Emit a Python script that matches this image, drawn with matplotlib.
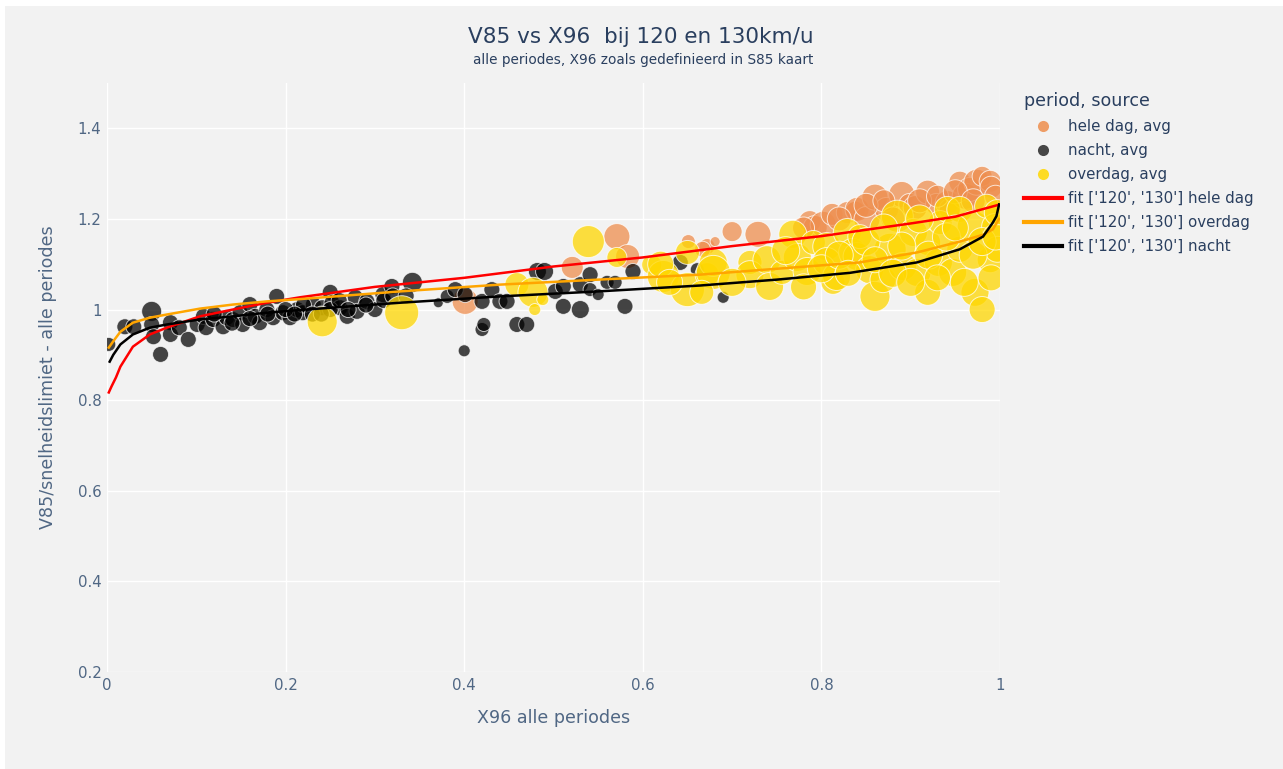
import numpy as np
import matplotlib.pyplot as plt
from matplotlib.lines import Line2D
from matplotlib.patches import Rectangle
from matplotlib.ticker import FuncFormatter

# --- data: X96 vs V85/speed limit, marker size = diameter in px ---
nacht_x = [0.002, 0.020, 0.030, 0.050, 0.050, 0.052, 0.060, 0.071, 0.071, 0.081,
           0.091, 0.101, 0.108, 0.111, 0.119, 0.130, 0.134, 0.141, 0.149, 0.152,
           0.160, 0.166, 0.171, 0.179, 0.186, 0.190, 0.197, 0.205, 0.213, 0.219,
           0.231, 0.241, 0.250, 0.252, 0.261, 0.269, 0.278, 0.280, 0.291, 0.300,
           0.309, 0.319, 0.342, 0.371, 0.381, 0.390, 0.401, 0.400, 0.420, 0.420,
           0.422, 0.431, 0.440, 0.448, 0.459, 0.470, 0.482, 0.490, 0.502, 0.511,
           0.511, 0.530, 0.530, 0.541, 0.541, 0.550, 0.560, 0.569, 0.580, 0.589,
           0.642, 0.661, 0.690,
           0.120, 0.140, 0.160, 0.180, 0.200, 0.220, 0.230, 0.250, 0.260, 0.270,
           0.290, 0.310, 0.320, 0.335, 0.240, 0.210]
nacht_y = [0.923, 0.962, 0.962, 0.996, 0.967, 0.940, 0.901, 0.971, 0.945, 0.960,
           0.934, 0.967, 0.985, 0.960, 0.978, 0.962, 0.982, 0.978, 0.993, 0.967,
           1.011, 0.985, 0.971, 1.000, 0.982, 1.029, 0.993, 0.982, 1.000, 0.993,
           1.011, 1.004, 1.038, 1.015, 1.004, 0.985, 1.027, 0.996, 1.018, 1.000,
           1.033, 1.051, 1.060, 1.015, 1.029, 1.044, 1.033, 0.909, 1.018, 0.956,
           0.967, 1.044, 1.018, 1.018, 0.967, 0.967, 1.084, 1.084, 1.040, 1.051,
           1.007, 1.055, 1.000, 1.077, 1.044, 1.033, 1.060, 1.060, 1.007, 1.084,
           1.104, 1.088, 1.027,
           0.990, 0.970, 0.980, 0.990, 1.000, 1.010, 0.990, 1.000, 1.020, 1.000,
           1.010, 1.020, 1.030, 1.030, 0.990, 0.990]
nacht_d = [14, 16, 16, 20, 16, 16, 16, 16, 16, 16,
           16, 16, 16, 16, 16, 16, 16, 16, 16, 16,
           16, 16, 16, 16, 16, 16, 16, 16, 16, 16,
           16, 16, 16, 16, 16, 16, 16, 16, 16, 16,
           16, 16, 20, 10, 14, 16, 16, 12, 16, 14,
           14, 16, 16, 16, 16, 16, 18, 18, 16, 16,
           16, 16, 18, 16, 14, 12, 14, 14, 16, 16,
           16, 14, 12,
           16, 16, 16, 16, 16, 16, 16, 16, 16, 16,
           16, 16, 16, 16, 16, 16]

heledag_x = [0.401, 0.521, 0.571, 0.583, 0.651, 0.672, 0.681, 0.700, 0.667, 0.729,
             0.787, 0.793, 0.802, 0.812, 0.829, 0.838, 0.840, 0.851, 0.860, 0.873,
             0.890, 0.899, 0.905, 0.919, 0.929, 0.941, 0.944, 0.955, 0.961, 0.966,
             0.974, 0.980, 0.989,
             0.780, 0.820, 0.850, 0.870, 0.880, 0.910, 0.930, 0.950, 0.970, 0.990,
             0.995]
heledag_y = [1.018, 1.093, 1.161, 1.117, 1.150, 1.139, 1.150, 1.172, 1.133, 1.166,
             1.194, 1.181, 1.188, 1.210, 1.214, 1.217, 1.221, 1.199, 1.248, 1.221,
             1.254, 1.232, 1.225, 1.259, 1.232, 1.236, 1.221, 1.281, 1.250, 1.265,
             1.281, 1.294, 1.283,
             1.180, 1.200, 1.230, 1.240, 1.200, 1.240, 1.250, 1.260, 1.240, 1.270,
             1.250]
heledag_d = [26, 22, 26, 24, 14, 16, 10, 20, 16, 26,
             22, 24, 26, 22, 22, 20, 24, 26, 26, 24,
             26, 22, 24, 24, 22, 24, 22, 22, 26, 24,
             26, 20, 22,
             22, 24, 24, 22, 24, 24, 22, 24, 24, 22,
             22]

overdag_x = [0.241, 0.330, 0.459, 0.477, 0.488, 0.479, 0.539, 0.571, 0.610, 0.623,
             0.650, 0.672, 0.650, 0.679, 0.679, 0.666, 0.720, 0.720, 0.739, 0.742,
             0.756, 0.768, 0.773, 0.784, 0.791, 0.806, 0.806, 0.813, 0.817, 0.829,
             0.835, 0.840, 0.843, 0.854, 0.860, 0.869, 0.877, 0.885, 0.891, 0.903,
             0.907, 0.919, 0.919, 0.931, 0.933, 0.941, 0.947, 0.955, 0.955, 0.970,
             0.972, 0.980, 0.985, 0.989, 0.994, 0.997, 0.997,
             0.620, 0.630, 0.700, 0.760, 0.780, 0.800, 0.820, 0.850, 0.860, 0.880,
             0.890, 0.900, 0.920, 0.930, 0.940, 0.960, 0.970, 0.980, 0.990, 0.995,
             0.910, 0.870, 0.950, 0.830]
overdag_y = [0.973, 0.993, 1.055, 1.038, 1.022, 1.000, 1.150, 1.115, 1.099, 1.073,
             1.044, 1.077, 1.126, 1.104, 1.082, 1.038, 1.104, 1.077, 1.110, 1.051,
             1.082, 1.166, 1.115, 1.084, 1.148, 1.139, 1.106, 1.060, 1.073, 1.170,
             1.126, 1.117, 1.161, 1.088, 1.029, 1.066, 1.133, 1.206, 1.095, 1.170,
             1.082, 1.148, 1.038, 1.104, 1.192, 1.221, 1.082, 1.133, 1.221, 1.183,
             1.038, 1.000, 1.228, 1.110, 1.183, 1.214, 1.133,
             1.100, 1.060, 1.060, 1.130, 1.050, 1.090, 1.120, 1.150, 1.110, 1.080,
             1.140, 1.060, 1.120, 1.070, 1.160, 1.060, 1.120, 1.150, 1.070, 1.160,
             1.200, 1.180, 1.180, 1.080]
overdag_d = [30, 34, 24, 30, 12, 12, 32, 20, 20, 32,
             34, 24, 24, 28, 34, 24, 24, 28, 28, 28,
             24, 28, 28, 28, 24, 28, 28, 24, 28, 28,
             28, 28, 24, 28, 30, 26, 32, 32, 28, 28,
             28, 26, 26, 28, 24, 26, 28, 26, 26, 32,
             28, 26, 24, 26, 26, 26, 26,
             26, 26, 28, 28, 26, 28, 28, 28, 26, 28,
             28, 28, 28, 26, 28, 28, 28, 28, 26, 26,
             28, 28, 26, 26]

# fitted curves per period
fit_hele_x = [0.002, 0.005, 0.010, 0.015, 0.029, 0.048, 0.067, 0.104, 0.141, 0.179,
              0.216, 0.300, 0.400, 0.500, 0.600, 0.700, 0.800, 0.900, 0.950, 1.000]
fit_hele_y = [0.817, 0.830, 0.850, 0.874, 0.918, 0.945, 0.960, 0.985, 1.000, 1.015,
              1.027, 1.050, 1.070, 1.095, 1.115, 1.140, 1.162, 1.190, 1.205, 1.232]
fit_over_x = [0.002, 0.007, 0.015, 0.029, 0.048, 0.067, 0.104, 0.141, 0.179, 0.216,
              0.328, 0.440, 0.550, 0.664, 0.750, 0.843, 0.907, 0.955, 0.981, 0.992, 0.999]
fit_over_y = [0.916, 0.930, 0.951, 0.971, 0.982, 0.989, 1.002, 1.011, 1.018, 1.023,
              1.040, 1.055, 1.066, 1.077, 1.090, 1.104, 1.126, 1.150, 1.165, 1.177, 1.200]
fit_nacht_x = [0.003, 0.007, 0.015, 0.029, 0.048, 0.067, 0.104, 0.141, 0.179, 0.216,
               0.328, 0.440, 0.550, 0.664, 0.750, 0.832, 0.907, 0.955, 0.981, 0.992,
               0.996, 0.999]
fit_nacht_y = [0.885, 0.900, 0.923, 0.945, 0.960, 0.967, 0.978, 0.985, 0.993, 0.999,
               1.015, 1.029, 1.040, 1.053, 1.066, 1.081, 1.104, 1.133, 1.161, 1.192,
               1.206, 1.232]

C_HELE = '#EE8E4E'
C_NACHT = '#000000'
C_OVER = '#FFD700'
TXT = '#2a3f5f'
TICK = '#506784'
BG = '#f2f2f2'

W, H = 1283, 769
fig = plt.figure(figsize=(W / 100, H / 100), dpi=100, facecolor='white')
fig.patches.append(Rectangle((5 / W, 0), 1, (H - 6) / H, transform=fig.transFigure,
                             facecolor=BG, edgecolor='none', zorder=-10))

ax = fig.add_axes([107 / W, 1 - 672 / H, (1000 - 107) / W, (672 - 83) / H])
ax.set_facecolor(BG)


def sz(d):
    # plotly-like diameter in px -> matplotlib area in pt^2
    return (np.asarray(d) * 0.72) ** 2


ax.scatter(heledag_x, heledag_y, s=sz(heledag_d), c=C_HELE, alpha=0.75,
           edgecolors='white', linewidths=0.7, zorder=3)
ax.scatter(nacht_x, nacht_y, s=sz(nacht_d), c=C_NACHT, alpha=0.72,
           edgecolors='white', linewidths=0.7, zorder=4)
ax.scatter(overdag_x, overdag_y, s=sz(overdag_d), c=C_OVER, alpha=0.75,
           edgecolors='white', linewidths=0.7, zorder=5)

ax.plot(fit_hele_x, fit_hele_y, color='#ff0000', lw=1.8, zorder=6)
ax.plot(fit_over_x, fit_over_y, color='#ffa500', lw=1.8, zorder=7)
ax.plot(fit_nacht_x, fit_nacht_y, color='black', lw=1.8, zorder=8)

ax.set_xlim(0, 1)
ax.set_ylim(0.2, 1.5)
ax.set_xticks(np.arange(0, 1.01, 0.2))
ax.set_yticks(np.arange(0.2, 1.41, 0.2))
fmt = FuncFormatter(lambda v, p: f'{v:g}')
ax.xaxis.set_major_formatter(fmt)
ax.yaxis.set_major_formatter(fmt)
ax.grid(True, color='white', lw=1.0, zorder=0)
ax.set_axisbelow(True)
for s in ax.spines.values():
    s.set_visible(False)
ax.tick_params(length=0, labelsize=10.8, labelcolor=TICK, pad=4)

ax.set_xlabel('X96 alle periodes', fontsize=12.6, color=TICK, labelpad=12)
ax.set_ylabel('V85/snelheidslimiet - alle periodes', fontsize=12.6, color=TICK, labelpad=15)

fig.text(641 / W, 1 - 37 / H, 'V85 vs X96  bij 120 en 130km/u', ha='center', va='center',
         fontsize=15.5, color=TXT)
fig.text(643 / W, 1 - 60 / H, 'alle periodes, X96 zoals gedefinieerd in S85 kaart',
         ha='center', va='center', fontsize=9.8, color=TXT)

handles = [
    Line2D([], [], ls='none', marker='o', ms=8, mfc=C_HELE, mec='none', alpha=0.85),
    Line2D([], [], ls='none', marker='o', ms=8, mfc='#333333', mec='none', alpha=0.9),
    Line2D([], [], ls='none', marker='o', ms=8, mfc=C_OVER, mec='none', alpha=0.85),
    Line2D([], [], color='#ff0000', lw=3),
    Line2D([], [], color='#ffa500', lw=3),
    Line2D([], [], color='black', lw=3),
]
labels = ['hele dag, avg', 'nacht, avg', 'overdag, avg',
          "fit ['120', '130'] hele dag", "fit ['120', '130'] overdag",
          "fit ['120', '130'] nacht"]
leg = fig.legend(handles, labels, loc='upper left',
                 bbox_to_anchor=(1021 / W, 1 - 89 / H), frameon=False,
                 title='period, source', alignment='left',
                 fontsize=10.8, title_fontproperties={'size': 12.6},
                 handlelength=2.5, handletextpad=0.45, labelspacing=0.6,
                 borderpad=0.2, borderaxespad=0)
leg.get_title().set_color(TXT)
for t in leg.get_texts():
    t.set_color(TXT)

fig.savefig('out.png', dpi=100, facecolor=fig.get_facecolor())
